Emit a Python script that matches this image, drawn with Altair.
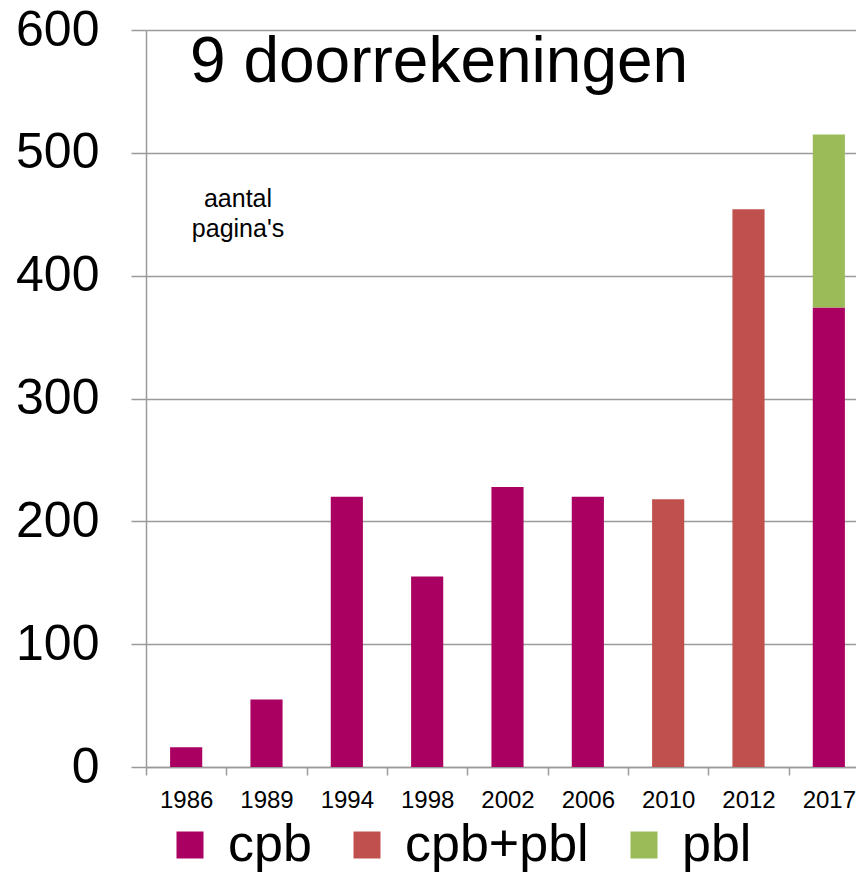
import altair as alt
import pandas as pd

years = ["1986", "1989", "1994", "1998", "2002", "2006", "2010", "2012", "2017"]
cpb = [16, 55, 220, 155, 228, 220, 0, 0, 374]
cpb_pbl = [0, 0, 0, 0, 0, 0, 218, 454, 0]
pbl = [0, 0, 0, 0, 0, 0, 0, 0, 141]
series = ["cpb", "cpb+pbl", "pbl"]
colors = ["#AA0061", "#C0504D", "#9BBB59"]
y_ticks = [0, 100, 200, 300, 400, 500, 600]
title_text = ["9 doorrekeningen"]
note_text = [["aantal", "pagina's"]]

rows = []
for i, yr in enumerate(years):
    for k, (s, vals) in enumerate(zip(series, [cpb, cpb_pbl, pbl])):
        if vals[i] > 0:
            rows.append({"jaar": yr, "reeks": s, "pagina": vals[i], "volgorde": k})
df = pd.DataFrame(rows)

FONT = "Liberation Sans"
GRAY = "#9a9a9a"
W, H = 723, 737

bars = alt.Chart(df).mark_bar(width=alt.RelativeBandSize(0.4)).encode(
    x=alt.X(
        "jaar:N", sort=years,
        scale=alt.Scale(paddingInner=0, paddingOuter=0),
        axis=alt.Axis(
            title=None, labelAngle=0, tickBand="extent", grid=False,
            labelFontSize=24, labelFont=FONT, labelColor="#000000",
            domainColor=GRAY, domainWidth=1.5, tickColor=GRAY, tickWidth=1.5,
            tickSize=8, labelPadding=13,
        ),
    ),
    y=alt.Y(
        "pagina:Q", stack="zero",
        scale=alt.Scale(domain=[0, 600], nice=False),
        axis=alt.Axis(
            title=None, values=y_ticks, grid=True, gridColor=GRAY, gridWidth=1.5,
            domainColor=GRAY, domainWidth=1.5, tickColor=GRAY, tickWidth=1.5,
            tickSize=15, labelFontSize=50, labelFont=FONT, labelColor="#000000",
            labelPadding=32,
        ),
    ),
    color=alt.Color(
        "reeks:N",
        scale=alt.Scale(domain=series, range=colors),
        legend=alt.Legend(
            title=None, orient="none", legendX=18, legendY=789,
            direction="horizontal", symbolType="square", symbolSize=729,
            symbolStrokeWidth=0, labelFontSize=52, labelFont=FONT,
            labelColor="#000000", labelOffset=12, columnPadding=29, padding=0,
            labelLimit=500,
        ),
    ),
    order=alt.Order("volgorde:Q"),
)

title = alt.Chart(pd.DataFrame({"t": title_text})).mark_text(
    align="left", baseline="alphabetic", fontSize=64, font=FONT, color="#000000"
).encode(text="t:N", x=alt.value(44), y=alt.value(52))

note = alt.Chart(pd.DataFrame({"t": note_text})).mark_text(
    align="center", baseline="alphabetic", fontSize=25, font=FONT,
    color="#000000", lineHeight=30
).encode(text="t", x=alt.value(92), y=alt.value(177))

chart = alt.layer(bars, title, note).properties(
    width=W, height=H,
    autosize=alt.AutoSizeParams(type="none"),
    padding={"left": 138, "top": 22, "right": -13, "bottom": 107},
).configure_view(stroke=None)

chart.save("out.html", embed_options={"renderer": "svg", "actions": False})
